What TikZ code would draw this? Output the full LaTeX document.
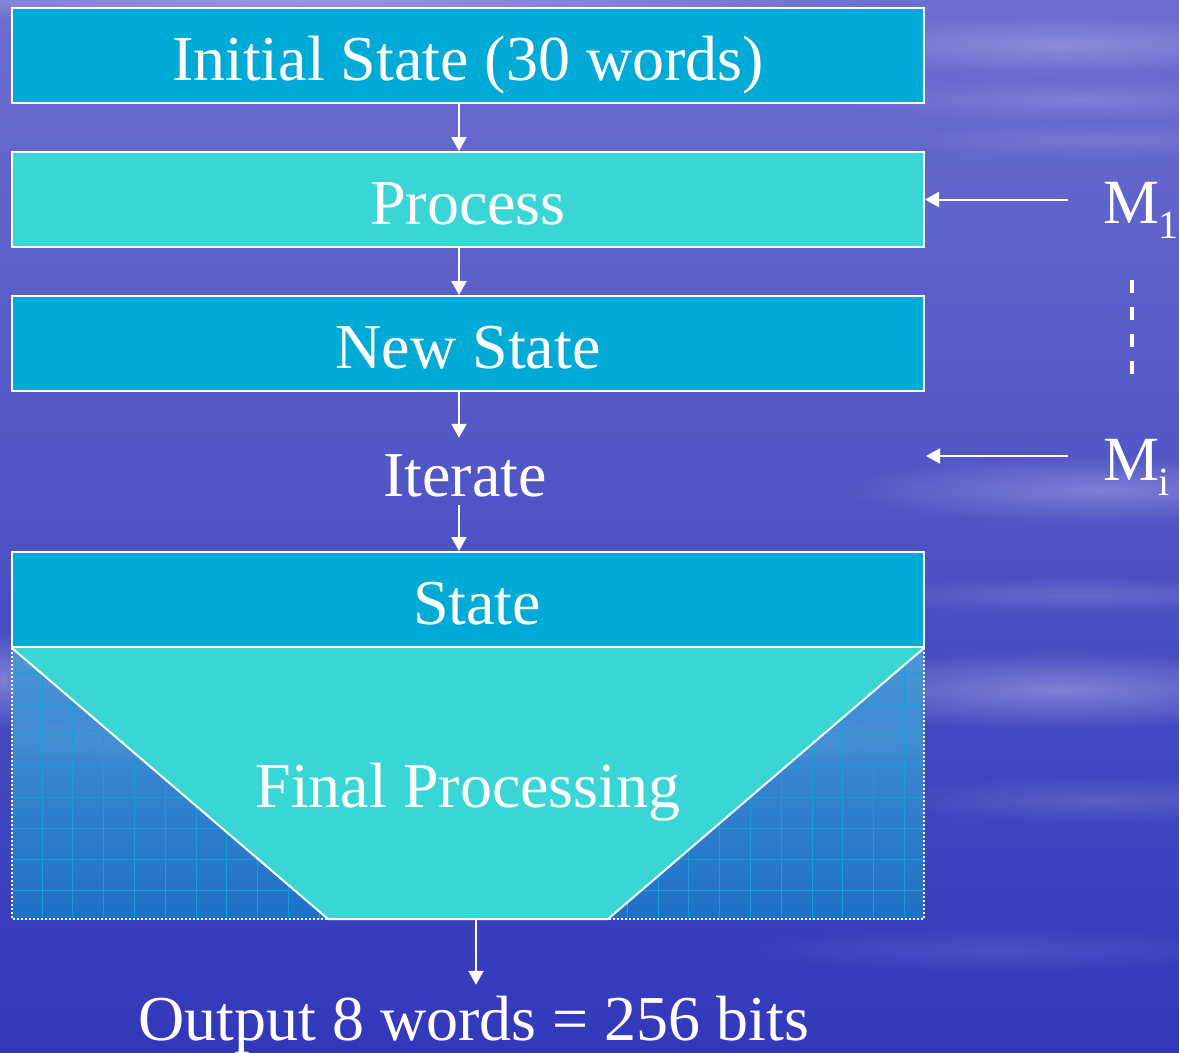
\documentclass[tikz,border=0pt]{standalone}
\usepackage{fontspec}
\setmainfont{Liberation Serif}
\usetikzlibrary{arrows.meta,fadings,calc}
\definecolor{boxdark}{RGB}{0,170,214}
\definecolor{boxlight}{RGB}{58,214,214}
\definecolor{skytop}{RGB}{108,110,208}
\definecolor{skymid}{RGB}{68,72,196}
\definecolor{skybot}{RGB}{50,56,186}
\definecolor{gridtop}{RGB}{76,150,215}
\definecolor{gridbot}{RGB}{30,112,200}
\definecolor{gridline}{RGB}{20,160,215}
\tikzfading[name=fuzzy, inner color=transparent!0, outer color=transparent!100]
\newcommand{\msub}[1]{\kern-1pt\raisebox{-15pt}{\fontsize{40}{40}\selectfont #1}}
\tikzset{
  box/.style={draw=white, line width=2pt, minimum width=912pt, minimum height=95pt,
    inner sep=0pt, text=white, text height=49pt, text depth=0pt,
    font=\fontsize{64}{77}\selectfont},
  plain/.style={text=white, inner sep=0pt, text height=49pt, text depth=0pt,
    font=\fontsize{64}{77}\selectfont},
  mlabel/.style={text=white, inner sep=0pt, font=\fontsize{63}{76}\selectfont},
  arr/.style={draw=white, line width=2pt, -{Triangle[length=14pt,width=15pt]}},
  cloud/.style={fill=white, path fading=fuzzy},
}
\begin{document}
\begin{tikzpicture}[x=1pt,y=-1pt]
\useasboundingbox (0,0) rectangle (1179,1053);
% sky
\shade[top color=skytop, middle color=skymid, bottom color=skybot] (0,0) rectangle (1179,1053);
\begin{scope}
\clip (0,0) rectangle (1179,1053);
\fill[cloud, opacity=0.3] (300,0) ellipse (600 and 22);
\fill[cloud, opacity=0.22] (1060,45) ellipse (260 and 30);
\fill[cloud, opacity=0.15] (1080,100) ellipse (240 and 22);
\fill[cloud, opacity=0.12] (1100,140) ellipse (200 and 18);
\fill[cloud, opacity=0.25] (1100,490) ellipse (260 and 34);
\fill[cloud, opacity=0.15] (1080,595) ellipse (240 and 18);
\fill[cloud, opacity=0.3] (1060,690) ellipse (280 and 40);
\fill[cloud, opacity=0.14] (1100,800) ellipse (220 and 24);
\fill[cloud, opacity=0.3] (4,680) ellipse (30 and 50);
\fill[cloud, opacity=0.1] (1000,950) ellipse (260 and 22);
\end{scope}
% grid region behind the trapezoid
\shade[top color=gridtop, bottom color=gridbot] (12,648) rectangle (924,919);
\begin{scope}
\clip (12,648) rectangle (924,919);
\fill[cloud, opacity=0.15] (468,740) ellipse (560 and 30);
\foreach \gx in {0,...,29} \draw[gridline, line width=1pt] (42+30.8*\gx,648) -- (42+30.8*\gx,919);
\foreach \gy in {0,...,7} \draw[gridline, line width=1pt] (12,673+31*\gy) -- (924,673+31*\gy);
\end{scope}
\draw[white, line width=2pt, dash pattern=on 2pt off 2pt] (12,648) -- (12,919) -- (924,919) -- (924,648);
% trapezoid
\coordinate (tl) at (12,648);
\coordinate (tr) at (924,648);
\coordinate (bl) at (328,919);
\coordinate (br) at (608,919);
\fill[boxlight] (tl) -- (tr) -- (br) -- (bl) -- cycle;
\draw[white, line width=2pt, line join=miter] (tl) -- (bl) -- (br) -- (tr);
% boxes
\node[box, fill=boxdark] (init) at (468,55.5) {Initial State (30 words)};
\node[box, fill=boxlight] (proc) at (468,199.5) {Process};
\node[box, fill=boxdark] (newst) at (468,343.5) {New State};
\node[plain, anchor=base, inner ysep=9pt] (iter) at (465,496) {Iterate};
\node[box, fill=boxdark] (state) at (468,599.5) {\hspace*{18pt}State};
\node[plain, anchor=base] (final) at (468,807) {Final Processing};
\coordinate (fpbot) at (476,919);
\node[plain, anchor=base, inner ysep=6pt] (out) at (474,1040) {Output 8 words = 256 bits};
% messages
\node[mlabel, anchor=base west] (m1) at (1103,223) {M\msub{1}};
\node[mlabel, anchor=base west] (mi) at (1103,480) {M\msub{i}};
\coordinate (iterR) at (926,456);
\coordinate (dtop) at (1132,280);
\coordinate (dbot) at (1132,375);
% connectors
\draw[arr] (init.south -| 459,0) -- (proc.north -| 459,0);
\draw[arr] (proc.south -| 459,0) -- (newst.north -| 459,0);
\draw[arr] (newst.south -| 459,0) -- (iter.north -| 459,0);
\draw[arr] (iter.south -| 459,0) -- (state.north -| 459,0);
\draw[arr] (fpbot) -- (out.north -| fpbot);
\draw[arr] (1068,0 |- proc.east) -- (proc.east);
\draw[arr] (1068,0 |- iterR) -- (iterR);
\draw[white, line width=4pt, dash pattern=on 13pt off 14pt] (dtop) -- (dbot);
\end{tikzpicture}
\end{document}
